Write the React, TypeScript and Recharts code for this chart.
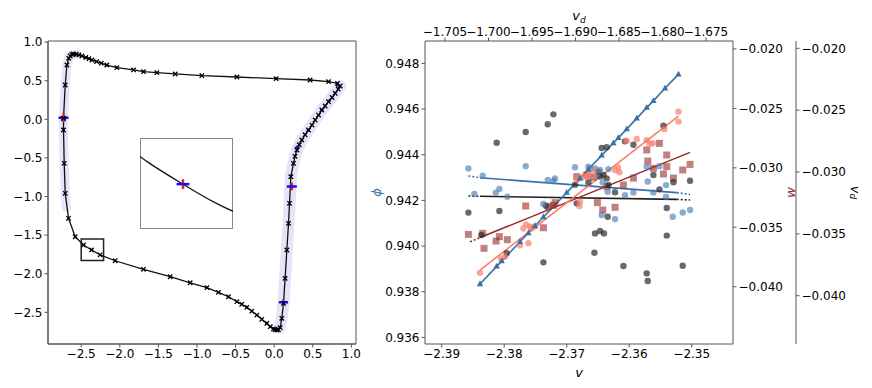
import React from "react"
import {
  ComposedChart,
  Line,
  Scatter,
  XAxis,
  YAxis,
  ErrorBar,
  ReferenceArea,
  Label,
} from "recharts"

// ---- left panel: limit cycle (x, y)
const loopPts: [number, number][] = [
  [-2.729, 0.013], [-2.707, 0.444], [-2.685, 0.703], [-2.662, 0.79], [-2.642, 0.82],
  [-2.62, 0.84], [-2.6, 0.846], [-2.565, 0.842], [-2.53, 0.834], [-2.491, 0.82],
  [-2.44, 0.8], [-2.4, 0.785], [-2.361, 0.768], [-2.3, 0.748], [-2.24, 0.727],
  [-2.167, 0.703], [-2.038, 0.669], [-1.822, 0.639], [-1.693, 0.617], [-1.52, 0.604],
  [-1.282, 0.587], [-0.937, 0.565], [-0.483, 0.548], [0.026, 0.526], [0.466, 0.509],
  [0.704, 0.487], [0.82, 0.466], [0.855, 0.431], [0.83, 0.39], [0.79, 0.337],
  [0.75, 0.282], [0.704, 0.228], [0.66, 0.172], [0.617, 0.12], [0.575, 0.055],
  [0.531, -0.009], [0.49, -0.075], [0.444, -0.139], [0.4, -0.2], [0.358, -0.268],
  [0.325, -0.33], [0.294, -0.398], [0.27, -0.48], [0.25, -0.57], [0.216, -0.743],
  [0.199, -1.088], [0.186, -1.347], [0.164, -1.693], [0.142, -2.06], [0.121, -2.383],
  [0.099, -2.578], [0.078, -2.699], [0.055, -2.725], [0.034, -2.729], [0.012, -2.725],
  [-0.009, -2.716], [-0.05, -2.685], [-0.095, -2.643], [-0.16, -2.59], [-0.224, -2.535],
  [-0.29, -2.485], [-0.354, -2.436], [-0.42, -2.395], [-0.483, -2.362], [-0.592, -2.298],
  [-0.721, -2.241], [-0.872, -2.181], [-1.088, -2.117], [-1.347, -2.039], [-1.693, -1.943],
  [-2.06, -1.832], [-2.254, -1.755], [-2.366, -1.692], [-2.47, -1.628], [-2.578, -1.521],
  [-2.664, -1.282], [-2.707, -0.959], [-2.72, -0.57], [-2.729, -0.139], [-2.729, 0.013],
]

const bandLeftPts: [number, number][] = [
  [-2.56, 0.842], [-2.62, 0.84], [-2.662, 0.79], [-2.685, 0.703], [-2.707, 0.444],
  [-2.729, 0.013], [-2.729, -0.139], [-2.72, -0.57], [-2.707, -0.959], [-2.69, -1.15],
]
const bandRightPts: [number, number][] = [
  [0.855, 0.431], [0.79, 0.337], [0.704, 0.228], [0.617, 0.12], [0.531, -0.009],
  [0.444, -0.139], [0.358, -0.268], [0.294, -0.398], [0.25, -0.57], [0.216, -0.743],
  [0.199, -1.088], [0.186, -1.347], [0.164, -1.693], [0.142, -2.06], [0.121, -2.383],
  [0.099, -2.578], [0.07, -2.7],
]

// crosses: x, y, x-error, y-error
const crossPts: [number, number, number, number][] = [
  [-2.729, 0.02, 0.065, 0.06],
  [0.229, -0.87, 0.065, 0.05],
  [0.12, -2.37, 0.06, 0.04],
  [0.3, -0.37, 0.03, 0.03],
  [-1.693, 0.617, 0.02, 0.0],
  [0.026, 0.526, 0.02, 0.0],
  [-2.18, 0.7, 0.015, 0.0],
  [-2.4, 0.785, 0.0, 0.015],
  [0.444, -0.139, 0.02, 0.015],
  [0.617, 0.12, 0.02, 0.015],
  [0.72, 0.245, 0.015, 0.01],
  [0.82, 0.44, 0.02, 0.015],
  [-2.366, -1.692, 0.02, 0.015],
  [-0.872, -2.181, 0.015, 0.0],
  [-0.36, -2.43, 0.015, 0.0],
  [-0.1, -2.64, 0.015, 0.0],
]

const leftXTicks = [-2.5, -2.0, -1.5, -1.0, -0.5, 0.0, 0.5, 1.0]
const leftYTicks = [-2.5, -2.0, -1.5, -1.0, -0.5, 0.0, 0.5, 1.0]
const leftXDomain = [-2.93, 1.06]
const leftYDomain = [-2.91, 1.014]

// ---- right panel: scatter vs v
const bluePts: [number, number][] = [
  [-2.38573, 0.9434], [-2.38344, 0.94308], [-2.38477, 0.94228], [-2.38136, 0.94234],
  [-2.38077, 0.9425], [-2.37949, 0.94216], [-2.37656, 0.9435], [-2.37373, 0.94184],
  [-2.37304, 0.94289], [-2.37213, 0.94285], [-2.37187, 0.94296], [-2.36867, 0.94345],
  [-2.36653, 0.94347], [-2.36627, 0.9434], [-2.36547, 0.9434], [-2.36467, 0.94333],
  [-2.36333, 0.94337], [-2.36424, 0.94279], [-2.36344, 0.94238], [-2.3644, 0.94136],
  [-2.36227, 0.94118], [-2.36067, 0.94223], [-2.35933, 0.94234], [-2.3572, 0.94347],
  [-2.35704, 0.94283], [-2.35613, 0.94235], [-2.35517, 0.9435], [-2.35411, 0.94267],
  [-2.35411, 0.94216], [-2.35304, 0.94128], [-2.35144, 0.94147], [-2.35027, 0.94158],
]
const blackPts: [number, number][] = [
  [-2.38573, -0.03328], [-2.38365, -0.03509], [-2.3812, -0.02763], [-2.38077, -0.03315],
  [-2.3796, -0.03657], [-2.37656, -0.02676], [-2.37373, -0.0373], [-2.37331, -0.03272],
  [-2.37304, -0.02614], [-2.37213, -0.02534], [-2.36867, -0.03102], [-2.3684, -0.03253],
  [-2.36653, -0.03083], [-2.36557, -0.03652], [-2.36547, -0.03496], [-2.36467, -0.03477],
  [-2.36403, -0.03496], [-2.36493, -0.02997], [-2.36467, -0.03037], [-2.36413, -0.03024],
  [-2.3636, -0.03051], [-2.36333, -0.03105], [-2.3644, -0.02806], [-2.3636, -0.028],
  [-2.36344, -0.03361], [-2.36227, -0.03164], [-2.36093, -0.0376], [-2.36067, -0.02752],
  [-2.35933, -0.02779], [-2.3572, -0.03819], [-2.35704, -0.03881], [-2.35613, -0.03024],
  [-2.35517, -0.0314], [-2.35453, -0.02625], [-2.354, -0.03514], [-2.354, -0.03291],
  [-2.35293, -0.03083], [-2.35144, -0.03757], [-2.35027, -0.0307],
]
const brownPts: [number, number][] = [
  [-2.38573, -0.0356], [-2.38344, -0.03551], [-2.38323, -0.03677], [-2.3813, -0.03616],
  [-2.38077, -0.03579], [-2.37949, -0.03604], [-2.37656, -0.03321], [-2.37373, -0.03504],
  [-2.37293, -0.03327], [-2.37213, -0.03316], [-2.37187, -0.03293], [-2.3684, -0.03074],
  [-2.3668, -0.0306], [-2.36573, -0.0308], [-2.36509, -0.03293], [-2.36424, -0.03355],
  [-2.3636, -0.03158], [-2.36227, -0.03332], [-2.36093, -0.03144], [-2.35933, -0.03086],
  [-2.3572, -0.0285], [-2.35704, -0.02943], [-2.35613, -0.03004], [-2.35517, -0.02794],
  [-2.35453, -0.03052], [-2.354, -0.02892], [-2.354, -0.0299], [-2.35293, -0.03086],
  [-2.35144, -0.03018], [-2.35027, -0.02971],
]
const salmonPts: [number, number][] = [
  [-2.38387, 0.93883], [-2.38056, 0.93946], [-2.37987, 0.93953], [-2.37747, 0.94003],
  [-2.37613, 0.94012], [-2.37693, 0.94077], [-2.37651, 0.94095], [-2.37587, 0.94085],
  [-2.3756, 0.94077], [-2.37517, 0.94086], [-2.3684, 0.94289], [-2.36787, 0.94194],
  [-2.36797, 0.94175], [-2.36733, 0.94304], [-2.3668, 0.94305], [-2.36653, 0.94311],
  [-2.36573, 0.94328], [-2.36227, 0.94333], [-2.36179, 0.94345], [-2.36157, 0.94323],
  [-2.3604, 0.94461], [-2.3588, 0.94469], [-2.3572, 0.94464], [-2.35677, 0.94447],
  [-2.35624, 0.9445], [-2.35437, 0.94512], [-2.35213, 0.94588], [-2.35213, 0.94545],
]
const trianglePts: [number, number][] = [
  [-2.38387, 0.93834], [-2.3812, 0.93911], [-2.3804, 0.93934], [-2.37747, 0.94019],
  [-2.37613, 0.94057], [-2.37507, 0.94088], [-2.37373, 0.94127], [-2.37, 0.94234],
  [-2.36787, 0.94296], [-2.36653, 0.94336], [-2.3644, 0.94397], [-2.36253, 0.94451],
  [-2.36173, 0.94474], [-2.3604, 0.94512], [-2.3588, 0.94559], [-2.3572, 0.94606],
  [-2.35613, 0.94636], [-2.35427, 0.94691], [-2.35213, 0.94752],
]

// regression lines: solid part and dotted extensions
const salmonFit: [number, number][] = [[-2.38387, 0.93895], [-2.35213, 0.94569]]
const brownFit: [number, number][] = [[-2.38387, -0.03587], [-2.35027, -0.0287]]
const brownFitExt: [number, number][] = [[-2.38547, -0.03621], [-2.38387, -0.03587]]
const blueFit: [number, number][] = [[-2.38387, 0.94299], [-2.3524, 0.94234]]
const blueFitExtL: [number, number][] = [[-2.38573, 0.94307], [-2.38387, 0.94299]]
const blueFitExtR: [number, number][] = [[-2.3524, 0.94234], [-2.35027, 0.94226]]
const blackFit: [number, number][] = [[-2.38387, -0.03196], [-2.3524, -0.03221]]
const blackFitExtL: [number, number][] = [[-2.38573, -0.03194], [-2.38387, -0.03196]]
const blackFitExtR: [number, number][] = [[-2.3524, -0.03221], [-2.35027, -0.03226]]

const vTicks = [-2.39, -2.38, -2.37, -2.36, -2.35]
const vdTopTicks = [-1.705, -1.7, -1.695, -1.69, -1.685, -1.68, -1.675]
const phiTicks = [0.936, 0.938, 0.94, 0.942, 0.944, 0.946, 0.948]
const wTicks = [-0.04, -0.035, -0.03, -0.025, -0.02]
const vdTicks = [-0.04, -0.035, -0.03, -0.025, -0.02]

const FONT = "DejaVu Sans"
const tickStyle = { fontSize: 12, fill: "#000", fontFamily: FONT }
const SPINE = "#555"

const toXY = (a: [number, number][]) => a.map(([x, y]) => ({ x, y }))
const fmt = (d: number) => (v: number) => v.toFixed(d).replace("-", "\u2212")

const C_BLUE = "#3a70a8"
const C_SALMON = "#fa7d6c"
const C_BROWN = "#962b2b"

const XMark = (p: any) => {
  const { cx, cy, index } = p
  if (cx == null || cy == null) return <g key={`xm${index}`} />
  const s = 2.2
  return (
    <path
      key={`xm${index}`}
      d={`M${cx - s},${cy - s}L${cx + s},${cy + s}M${cx - s},${cy + s}L${cx + s},${cy - s}`}
      stroke="#000"
      strokeWidth={1.3}
    />
  )
}

const dotShape = (fill: string, opacity: number) => (p: any) => (
  <circle cx={p.cx} cy={p.cy} r={3.2} fill={fill} fillOpacity={opacity} />
)
const squareShape = (p: any) => (
  <rect x={p.cx - 3.5} y={p.cy - 3.5} width={7} height={7} fill={C_BROWN} fillOpacity={0.6} />
)
const triShape = (p: any) => (
  <path d={`M${p.cx},${p.cy - 3.6}L${p.cx + 3.2},${p.cy + 2.2}L${p.cx - 3.2},${p.cy + 2.2}Z`} fill={C_BLUE} />
)
const noShape = () => <g />

function LeftPanel() {
  const loop = toXY(loopPts)
  const crosses = crossPts.map(([x, y, ex, ey]) => ({ x, y, ex, ey }))
  return (
    <ComposedChart width={370} height={388} margin={{ top: 41, right: 14, bottom: 0, left: 0 }}>
      <XAxis
        type="number"
        dataKey="x"
        domain={leftXDomain}
        ticks={leftXTicks}
        tickFormatter={fmt(1)}
        height={44}
        tick={tickStyle}
        tickSize={3.5}
        stroke={SPINE}
        allowDataOverflow
      />
      <YAxis
        type="number"
        dataKey="y"
        domain={leftYDomain}
        ticks={leftYTicks}
        tickFormatter={fmt(1)}
        width={48}
        tick={tickStyle}
        tickSize={3.5}
        stroke={SPINE}
        allowDataOverflow
      />
      {/* frame */}
      <ReferenceArea x1={leftXDomain[0]} x2={leftXDomain[1]} y1={leftYDomain[0]} y2={leftYDomain[1]} fill="none" fillOpacity={0} stroke={SPINE} strokeWidth={1} />
      <Line data={toXY(bandLeftPts)} dataKey="y" stroke="#e4e4fa" strokeWidth={9} strokeLinecap="round" strokeLinejoin="round" dot={false} isAnimationActive={false} />
      <Line data={toXY(bandRightPts)} dataKey="y" stroke="#e4e4fa" strokeWidth={12} strokeLinecap="round" strokeLinejoin="round" dot={false} isAnimationActive={false} />
      <Line data={loop} dataKey="y" stroke="#111" strokeWidth={1.3} dot={XMark} type="linear" isAnimationActive={false} />
      <Scatter data={crosses} shape={noShape} isAnimationActive={false}>
        <ErrorBar dataKey="ey" direction="y" width={0} stroke="#ff1a1a" strokeWidth={2.5} />
        <ErrorBar dataKey="ex" direction="x" width={0} stroke="#1010ff" strokeWidth={2.5} />
      </Scatter>
      <ReferenceArea x1={-2.5} x2={-2.21} y1={-1.83} y2={-1.55} fill="none" stroke="#222" strokeWidth={1.5} fillOpacity={0} />
    </ComposedChart>
  )
}

function Inset() {
  const crosses = crossPts.map(([x, y, ex, ey]) => ({ x, y, ex, ey }))
  return (
    <ComposedChart width={93} height={91} margin={{ top: 0, right: 0, bottom: 0, left: 0 }}>
      <XAxis type="number" dataKey="x" domain={[-2.5, -2.21]} hide allowDataOverflow />
      <YAxis type="number" dataKey="y" domain={[-1.83, -1.55]} hide allowDataOverflow />
      <Line data={toXY(loopPts)} dataKey="y" stroke="#111" strokeWidth={1.3} dot={false} type="natural" isAnimationActive={false} />
      <Scatter data={crosses} shape={noShape} isAnimationActive={false}>
        <ErrorBar dataKey="ey" direction="y" width={0} stroke="#ff1a1a" strokeWidth={2.5} />
        <ErrorBar dataKey="ex" direction="x" width={0} stroke="#1010ff" strokeWidth={2.5} />
      </Scatter>
    </ComposedChart>
  )
}

const sideLabel = (text: React.ReactNode, dx: number, color: string, angle: number) => (props: any) => {
  const vb = props.viewBox || {}
  const x = vb.x + dx
  const y = vb.y + vb.height / 2
  return (
    <text x={x} y={y} transform={`rotate(${angle},${x},${y})`} textAnchor="middle" dominantBaseline="central" fill={color} fontFamily={FONT} fontSize={13}>
      {text}
    </text>
  )
}

function RightPanel() {
  const fitLine = (pts: [number, number][], yId: string, color: string, dashed: boolean, key: string) => (
    <Line
      key={key}
      data={toXY(pts)}
      dataKey="y"
      xAxisId="b"
      yAxisId={yId}
      stroke={color}
      strokeWidth={1.6}
      strokeDasharray={dashed ? "2 2" : undefined}
      dot={false}
      isAnimationActive={false}
    />
  )
  return (
    <ComposedChart width={496} height={388} margin={{ top: 11, right: 0, bottom: 4, left: 0 }}>
      <XAxis
        xAxisId="b"
        type="number"
        dataKey="x"
        domain={[-2.39267, -2.3434]}
        ticks={vTicks}
        tickFormatter={fmt(2)}
        height={40}
        tick={tickStyle}
        tickSize={3.5}
        stroke={SPINE}
        allowDataOverflow
      >
        <Label
          content={(p: any) => {
            const vb = p.viewBox
            return (
              <text x={vb.x + vb.width / 2} y={vb.y + 33} textAnchor="middle" fontFamily={FONT} fontSize={13} fontStyle="italic">
                v
              </text>
            )
          }}
        />
      </XAxis>
      <XAxis
        xAxisId="t"
        orientation="top"
        type="number"
        dataKey="x"
        domain={[-1.7073, -1.6719]}
        ticks={vdTopTicks}
        tickFormatter={fmt(3)}
        height={30}
        tick={tickStyle}
        tickSize={3.5}
        stroke={SPINE}
        interval={0}
        allowDataOverflow
      >
        <Label
          content={(p: any) => {
            const vb = p.viewBox
            return (
              <text x={vb.x + vb.width / 2} y={vb.y + 9} textAnchor="middle" fontFamily={FONT} fontSize={13} fontStyle="italic">
                v<tspan fontSize={9} dy={3}>d</tspan>
              </text>
            )
          }}
        />
      </XAxis>
      <YAxis
        yAxisId="phi"
        type="number"
        dataKey="y"
        domain={[0.93571, 0.94898]}
        ticks={phiTicks}
        tickFormatter={fmt(3)}
        width={55}
        tick={tickStyle}
        tickSize={3.5}
        stroke={SPINE}
        allowDataOverflow
      >
        <Label content={sideLabel(<tspan fontStyle="italic">ϕ</tspan>, 6, C_BLUE, -90)} />
      </YAxis>
      <YAxis
        yAxisId="r1w"
        orientation="right"
        type="number"
        dataKey="y"
        domain={[-0.04482, -0.01933]}
        ticks={wTicks}
        tickFormatter={fmt(3)}
        width={63}
        tick={tickStyle}
        tickSize={3.5}
        stroke={SPINE}
        allowDataOverflow
      >
        <Label content={sideLabel(<tspan fontStyle="italic">w</tspan>, 57, C_BROWN, -90)} />
      </YAxis>
      <YAxis
        yAxisId="r2vd"
        orientation="right"
        type="number"
        dataKey="y"
        domain={[-0.0439, -0.01941]}
        ticks={vdTicks}
        tickFormatter={fmt(3)}
        width={70}
        tick={tickStyle}
        tickSize={3.5}
        stroke={SPINE}
        allowDataOverflow
      >
        <Label content={sideLabel(<tspan fontStyle="italic">v<tspan fontSize={9} dy={3}>d</tspan></tspan>, 60, "#000", 90)} />
      </YAxis>

      {/* empty series so the top v_d axis gets drawn */}
      <Scatter data={[]} xAxisId="t" yAxisId="phi" shape={noShape} isAnimationActive={false} />

      <Scatter data={toXY(brownPts)} xAxisId="b" yAxisId="r1w" shape={squareShape} isAnimationActive={false} />
      <Scatter data={toXY(blackPts)} xAxisId="b" yAxisId="r2vd" shape={dotShape("#2a2a2a", 0.7)} isAnimationActive={false} />
      <Scatter data={toXY(bluePts)} xAxisId="b" yAxisId="phi" shape={dotShape("#4a7fb5", 0.65)} isAnimationActive={false} />
      <Scatter data={toXY(salmonPts)} xAxisId="b" yAxisId="phi" shape={dotShape(C_SALMON, 0.7)} isAnimationActive={false} />

      {fitLine(blackFit, "r2vd", "#222", false, "k1")}
      {fitLine(blackFitExtL, "r2vd", "#222", true, "k2")}
      {fitLine(blackFitExtR, "r2vd", "#222", true, "k3")}
      {fitLine(blueFit, "phi", C_BLUE, false, "b1")}
      {fitLine(blueFitExtL, "phi", C_BLUE, true, "b2")}
      {fitLine(blueFitExtR, "phi", C_BLUE, true, "b3")}
      {fitLine(brownFit, "r1w", C_BROWN, false, "r1")}
      {fitLine(brownFitExt, "r1w", C_BROWN, true, "r2")}
      {fitLine(salmonFit, "phi", C_SALMON, false, "s1")}
      <Line data={toXY(trianglePts)} dataKey="y" xAxisId="b" yAxisId="phi" stroke={C_BLUE} strokeWidth={1.6} dot={false} isAnimationActive={false} />
      <Scatter data={toXY(trianglePts)} xAxisId="b" yAxisId="phi" shape={triShape} isAnimationActive={false} />
    </ComposedChart>
  )
}

export default function App() {
  return (
    <div style={{ position: "fixed", left: 0, top: 0, width: 872, height: 388, background: "#fff", overflow: "hidden" }}>
      <div style={{ position: "absolute", left: 0, top: 0 }}>
        <LeftPanel />
      </div>
      <div style={{ position: "absolute", left: 140, top: 138, width: 93, height: 91, border: "1.5px solid #888", boxSizing: "border-box", background: "#fff" }}>
        <div style={{ position: "absolute", left: -1.5, top: -1.5 }}>
          <Inset />
        </div>
      </div>
      <div style={{ position: "absolute", left: 370, top: 0 }}>
        <RightPanel />
      </div>
    </div>
  )
}
